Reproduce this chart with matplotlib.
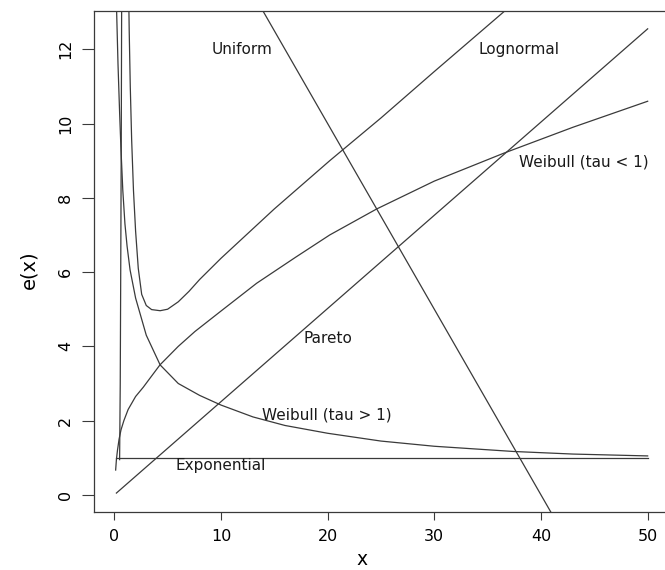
import numpy as np
import matplotlib.pyplot as plt

plt.rcParams['font.family'] = ['DejaVu Sans']

exp_x = [0.2, 50]
exp_y = [1.0, 1.0]

pareto_x = [0.2, 50]
pareto_y = [0.05, 12.55]

uniform_x = [12, 42]
uniform_y = [14.0, -1.0]

steep_x = [0.5, 0.56, 0.62, 0.66, 0.7]
steep_y = [0.95, 3.0, 7.0, 10.0, 14.0]

wb_gt1_x = [0.18, 0.22, 0.35, 0.5, 0.63, 0.8, 1.0, 1.2, 1.48, 2.0, 3.0, 4.3, 6, 8, 10,
            13, 16, 20, 25, 30, 37.4, 43, 50]
wb_gt1_y = [14.0, 13.03, 11.6, 10.3, 9.3, 8.2, 7.3, 6.7, 6.06, 5.3, 4.3, 3.5, 3.0, 2.68, 2.42,
            2.1, 1.87, 1.66, 1.45, 1.31, 1.17, 1.1, 1.05]

lognorm_x = [1.3, 1.4, 1.5, 1.63, 1.8, 2.0, 2.25, 2.57, 3.0, 3.5, 4.3, 5.0, 6.0, 7.0, 8, 10,
             15, 20.2, 25, 30, 36.6, 40]
lognorm_y = [14.5, 12.5, 11.0, 9.56, 8.2, 7.1, 6.1, 5.4, 5.1, 4.99, 4.96, 5.0, 5.2, 5.48, 5.8, 6.37,
             7.7, 9.0, 10.15, 11.4, 13.03, 13.8]

wb_lt1_x = [0.13, 0.2, 0.3, 0.45, 0.63, 0.9, 1.3, 2.0, 2.72, 3.16, 4.28, 6, 7.56, 10,
            13.35, 17, 20.2, 24.6, 30, 36.5, 43, 50]
wb_lt1_y = [0.67, 0.95, 1.2, 1.5, 1.75, 2.0, 2.3, 2.65, 2.9, 3.07, 3.5, 4.0, 4.4, 4.95,
            5.7, 6.4, 7.0, 7.7, 8.45, 9.2, 9.9, 10.6]

labels = ['Uniform', 'Lognormal', 'Weibull (tau < 1)', 'Pareto', 'Weibull (tau > 1)', 'Exponential']
label_x = [12, 37.9, 37.9, 20, 19.9, 10]
label_y = [12, 12, 8.97, 4.2, 2.15, 0.8]
label_ha = ['center', 'center', 'left', 'center', 'center', 'center']

fig = plt.figure(figsize=(6.65, 5.7), dpi=100)
ax = fig.add_axes([94 / 665, 58 / 570, 575 / 665, 501 / 570])

lc = '#3a3a3a'
for xs, ys in [(exp_x, exp_y), (pareto_x, pareto_y), (uniform_x, uniform_y),
               (steep_x, steep_y), (wb_gt1_x, wb_gt1_y), (lognorm_x, lognorm_y),
               (wb_lt1_x, wb_lt1_y)]:
    ax.plot(xs, ys, color=lc, lw=0.9)

for t, tx, ty, ha in zip(labels, label_x, label_y, label_ha):
    ax.text(tx, ty, t, ha=ha, va='center', fontsize=11, color='#1a1a1a')

ax.set_xlim(-1.9, 52)
ax.set_ylim(-0.46, 13.03)
ax.set_xticks([0, 10, 20, 30, 40, 50])
ax.set_yticks([0, 2, 4, 6, 8, 10, 12])
ax.tick_params(axis='x', length=6, width=0.8, color=lc, labelsize=11.5, pad=6)
ax.tick_params(axis='y', length=9, width=0.8, color=lc, labelsize=11.5, pad=6)
for lab in ax.get_yticklabels():
    lab.set_rotation(90)
    lab.set_va('center')
for s in ax.spines.values():
    s.set_color(lc)
    s.set_linewidth(0.9)

ax.set_xlabel('x', fontsize=13.5, va='center')
ax.set_ylabel('e(x)', fontsize=14)
ax.xaxis.set_label_coords(0.466, -0.095)
ax.yaxis.set_label_coords(-0.097, 0.483)

fig.savefig('out.png', dpi=100)
